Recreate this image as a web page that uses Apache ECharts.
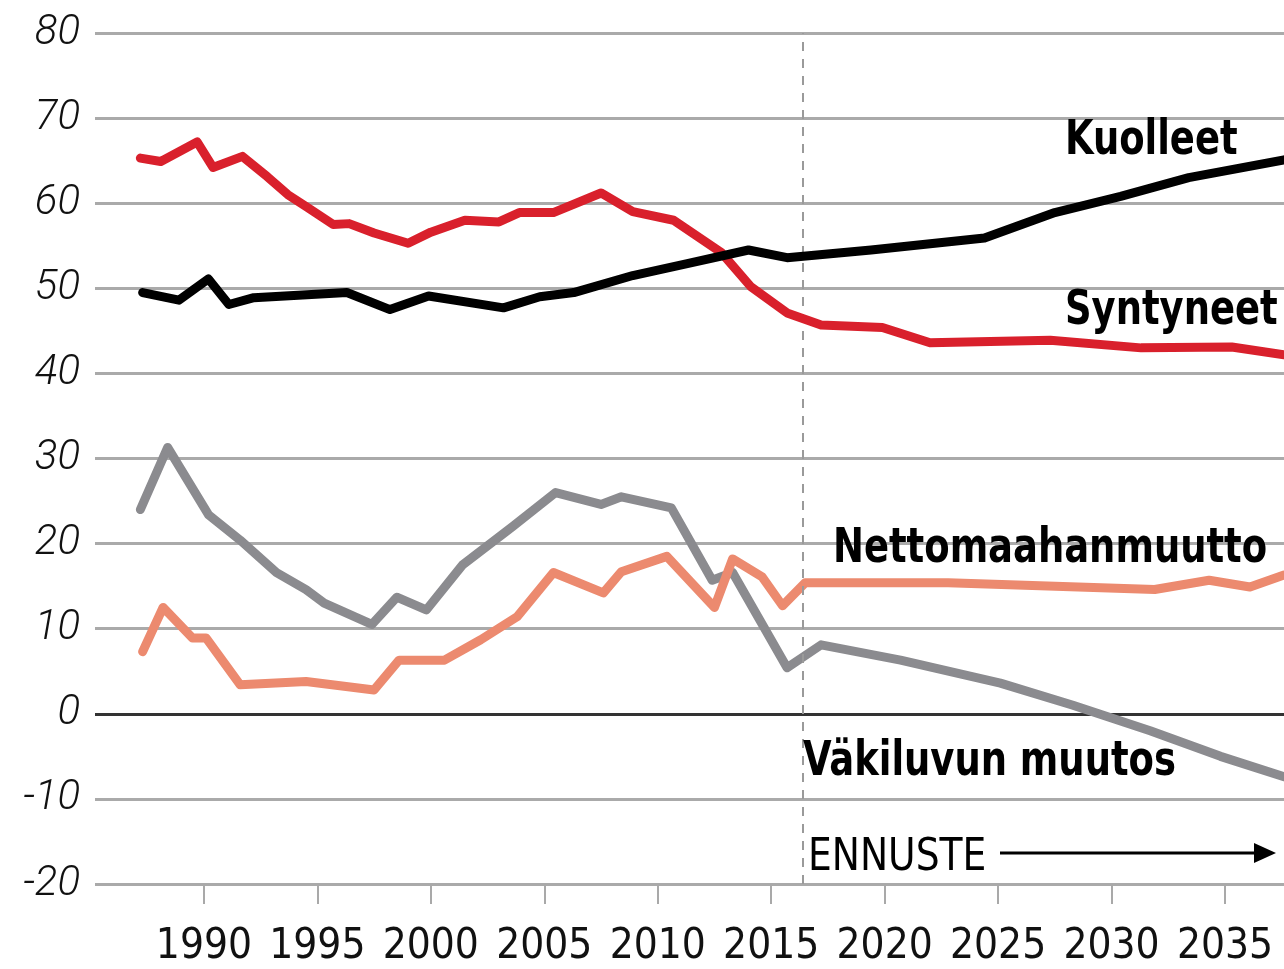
<!DOCTYPE html>
<html>
<head>
<meta charset="utf-8">
<script src="https://cdn.jsdelivr.net/npm/echarts@6/dist/echarts.min.js"></script>
<style>
  html, body { margin: 0; padding: 0; background: #fff; }
  #chart { width: 1284px; height: 969px; }
</style>
</head>
<body>
<div id="chart"></div>
<script>
var myChart = echarts.init(document.getElementById('chart'));

// [year, value] pairs (thousands)
var syntyneet = [
    [1987.2, 65.3], [1988.1, 64.9], [1989.7, 67.2], [1990.4, 64.2], [1991.7, 65.5],
    [1992.8, 63.1], [1993.7, 61.0], [1994.5, 59.6], [1995.7, 57.5], [1996.4, 57.6],
    [1997.5, 56.5], [1999.0, 55.3], [2000.0, 56.6], [2001.5, 58.0], [2003.0, 57.8],
    [2003.9, 58.9], [2005.4, 58.9], [2007.5, 61.2], [2008.9, 59.0], [2010.7, 58.0],
    [2012.8, 54.2], [2014.1, 50.2], [2015.7, 47.1], [2017.2, 45.7], [2019.9, 45.4],
    [2022.0, 43.6], [2027.3, 43.9], [2031.3, 43.0], [2035.3, 43.1], [2037.6, 42.2]
];
var kuolleet = [
    [1987.3, 49.5], [1988.9, 48.6], [1990.2, 51.1], [1991.1, 48.1], [1992.2, 48.9],
    [1996.3, 49.5], [1998.2, 47.5], [1999.9, 49.1], [2003.2, 47.7], [2004.8, 49.0],
    [2006.3, 49.5], [2008.9, 51.5], [2011.3, 52.9], [2014.0, 54.5], [2015.7, 53.6],
    [2019.4, 54.5], [2024.4, 55.9], [2027.5, 58.9], [2030.4, 60.8], [2033.4, 63.0],
    [2037.6, 65.1]
];
var vakiluvunMuutos = [
    [1987.2, 24.0], [1988.4, 31.3], [1990.2, 23.4], [1991.6, 20.4], [1993.2, 16.6],
    [1994.5, 14.6], [1995.3, 13.0], [1997.4, 10.5], [1998.5, 13.7], [1999.8, 12.2],
    [2001.4, 17.5], [2003.6, 22.0], [2005.5, 26.0], [2007.5, 24.6], [2008.4, 25.5],
    [2010.6, 24.2], [2012.4, 15.7], [2013.3, 16.6], [2015.7, 5.4], [2017.2, 8.1],
    [2020.7, 6.3], [2025.1, 3.6], [2028.3, 1.0], [2031.7, -2.0], [2034.8, -5.0],
    [2037.6, -7.4]
];
var nettomaahanmuutto = [
    [1987.3, 7.3], [1988.2, 12.5], [1989.5, 8.9], [1990.1, 8.9], [1991.6, 3.4],
    [1994.5, 3.8], [1997.5, 2.8], [1998.6, 6.3], [2000.6, 6.3], [2002.2, 8.7],
    [2003.8, 11.4], [2005.4, 16.6], [2007.6, 14.2], [2008.4, 16.7], [2010.4, 18.5],
    [2012.5, 12.5], [2013.3, 18.2], [2014.6, 16.1], [2015.5, 12.7], [2016.5, 15.4],
    [2022.8, 15.4], [2031.9, 14.6], [2034.3, 15.7], [2036.1, 14.9], [2037.6, 16.3]
];
var yearTicks = [1990, 1995, 2000, 2005, 2010, 2015, 2020, 2025, 2030, 2035];
var forecastStart = 2016.4;

var condensed = '"Liberation Sans Narrow", "DejaVu Sans Condensed", "Roboto Condensed", sans-serif';

function lineSeries(name, data, color, z) {
    return {
        name: name,
        type: 'line',
        data: data,
        symbol: 'none',
        z: z,
        lineStyle: {color: color, width: 9, join: 'round', cap: 'round'}
    };
}

var series = [
    lineSeries('Väkiluvun muutos', vakiluvunMuutos, '#8b8b8f', 3),
    lineSeries('Nettomaahanmuutto', nettomaahanmuutto, '#ec8a6f', 4),
    lineSeries('Syntyneet', syntyneet, '#d9202c', 5),
    lineSeries('Kuolleet', kuolleet, '#000000', 6)
];
series[0].markLine = {
    silent: true,
    symbol: 'none',
    label: {show: false},
    lineStyle: {color: '#9a9a9a', width: 2, type: [9, 8]},
    data: [{xAxis: forecastStart}]
};

// series name labels: condensed with scaleX so they fit the original widths
function label(text, x, y, size, weight, sx) {
    return {
        type: 'text',
        x: x,
        y: y,
        scaleX: sx,
        z: 100,
        style: {
            text: text,
            fill: '#000',
            font: weight + ' ' + size + 'px ' + condensed,
            verticalAlign: 'middle'
        }
    };
}

myChart.setOption({
    backgroundColor: '#fff',
    animation: false,
    grid: {left: 95, right: 0, top: 33, bottom: 85, containLabel: false},
    xAxis: {
        type: 'value',
        min: 1985.2,
        max: 2037.6,
        splitLine: {show: false},
        axisLine: {show: false, onZero: false},
        axisTick: {
            show: true,
            customValues: yearTicks,
            length: 20,
            lineStyle: {color: '#a9a9a9', width: 2}
        },
        axisLabel: {
            customValues: yearTicks,
            formatter: function (v) { return String(v); },
            margin: 42,
            color: '#111',
            fontSize: 42,
            fontFamily: condensed
        }
    },
    yAxis: {
        type: 'value',
        min: -20,
        max: 80,
        interval: 10,
        axisLine: {show: false},
        axisTick: {show: false},
        splitLine: {
            lineStyle: {
                color: ['#aaaaaa', '#aaaaaa', '#333333', '#aaaaaa', '#aaaaaa', '#aaaaaa',
                        '#aaaaaa', '#aaaaaa', '#aaaaaa', '#aaaaaa', '#aaaaaa'],
                width: 3
            }
        },
        axisLabel: {
            margin: 15,
            color: '#111',
            fontSize: 42,
            fontStyle: 'italic',
            fontWeight: 300,
            fontFamily: 'Roboto, "Liberation Sans", sans-serif'
        }
    },
    series: series,
    graphic: [
        label('Kuolleet', 1065, 142, 48, 'bold', 0.855),
        label('Syntyneet', 1065, 312, 48, 'bold', 0.855),
        label('Nettomaahanmuutto', 833, 550, 48, 'bold', 0.855),
        label('Väkiluvun muutos', 803, 763, 48, 'bold', 0.855),
        label('ENNUSTE', 808, 858, 45, 'normal', 0.93),
        {
            type: 'line',
            z: 100,
            shape: {x1: 1000, y1: 853, x2: 1258, y2: 853},
            style: {stroke: '#000', lineWidth: 3}
        },
        {
            type: 'polygon',
            z: 100,
            shape: {points: [[1254, 843], [1276, 853], [1254, 863]]},
            style: {fill: '#000'}
        }
    ]
});
</script>
</body>
</html>
